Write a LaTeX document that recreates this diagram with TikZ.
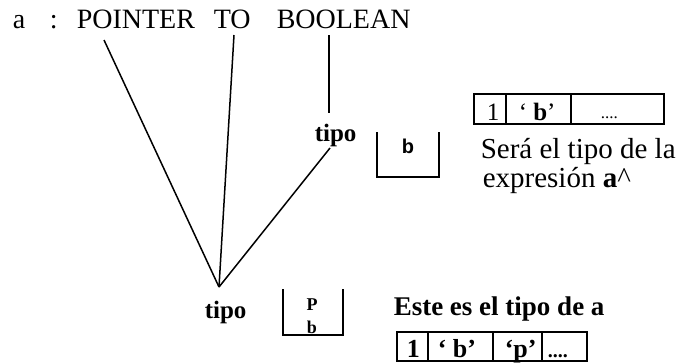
\documentclass[tikz,border=0pt]{standalone}
\usepackage{fontspec}
\setmainfont{Liberation Serif}
\newfontfamily\boxsans{Liberation Sans}
\newcommand{\fs}[1]{\fontsize{#1}{#1}\selectfont}
\begin{document}
\begin{tikzpicture}[x=1pt, y=-1pt, line width=1.5pt,
	lbl/.style={inner sep=0pt, anchor=base west},
	decl/.style={lbl, font=\fs{28}},
	tipo/.style={lbl, font=\fs{25}\bfseries},
	cell/.style={line width=1.3pt}]
	\useasboundingbox (0,0) rectangle (677,362);
	% the declaration
	\node[decl] (a) at (12,28) {a};
	\node[decl] (colon) at (49,28) {:};
	\node[decl] (pointer) at (76,28) {POINTER};
	\node[decl] (to) at (213,28) {TO};
	\node[decl] (boolean) at (276,28) {BOOLEAN};
	% the two tipo nodes
	\node[tipo] (tipoup) at (314,141) {tipo};
	\node[tipo] (tipolow) at (204,318) {tipo};
	\coordinate (apex) at (219,287);
	\coordinate (pbot) at (104,40);
	\coordinate (tbot) at (234,35);
	\coordinate (btop) at (329,35);
	\coordinate (bbot) at (329,113);
	\coordinate (tup) at (330,148);
	\draw (pbot) -- (apex);
	\draw (tbot) -- (apex);
	\draw (tup) -- (apex);
	\draw (btop) -- (bbot);
	% stacks
	\draw (377,132) |- (439,177) -- (439,132);
	\node[font=\boxsans\fs{20}\bfseries, inner sep=0pt] (sb) at (408,146) {b};
	\draw (283,289) |- (343,335) -- (343,289);
	\node[font=\fs{18}\bfseries, inner sep=0pt] (sp) at (312,305) {P};
	\node[font=\fs{18}\bfseries, inner sep=0pt] (sb2) at (312,327) {b};
	% type of a^
	\draw[cell] (474,94) rectangle (664,124);
	\draw[cell] (506,94) -- (506,124);
	\draw[cell] (571,94) -- (571,124);
	\node[lbl, font=\fs{25}] (one) at (486,120) {1};
	\node[lbl, font=\fs{25}] (chb) at (518,120) {‘ \textbf{b}’};
	\node[lbl, font=\fs{17}] (dots) at (600,118) {....};
	\node[lbl, font=\fs{29}] (sera) at (480,158) {Será el tipo de la};
	\node[lbl, font=\fs{29}] (expr) at (482,187) {expresión \textbf{a}\textasciicircum};
	% type of a
	\node[lbl, font=\fs{27}\bfseries] (este) at (393,315) {Este es el tipo de a};
	\draw[cell] (397,332) rectangle (587,361);
	\foreach \x in {428,493,542}
		\draw[cell] (\x,332) -- (\x,361);
	\node[lbl, font=\fs{26}\bfseries] (onelow) at (406,357) {1};
	\node[lbl, font=\fs{26}\bfseries] (chblow) at (437,357) {‘ b’};
	\node[lbl, font=\fs{26}\bfseries] (chplow) at (504,357) {‘p’};
	\node[lbl, font=\fs{20}\bfseries] (dotslow) at (547,357) {....};
\end{tikzpicture}
\end{document}
